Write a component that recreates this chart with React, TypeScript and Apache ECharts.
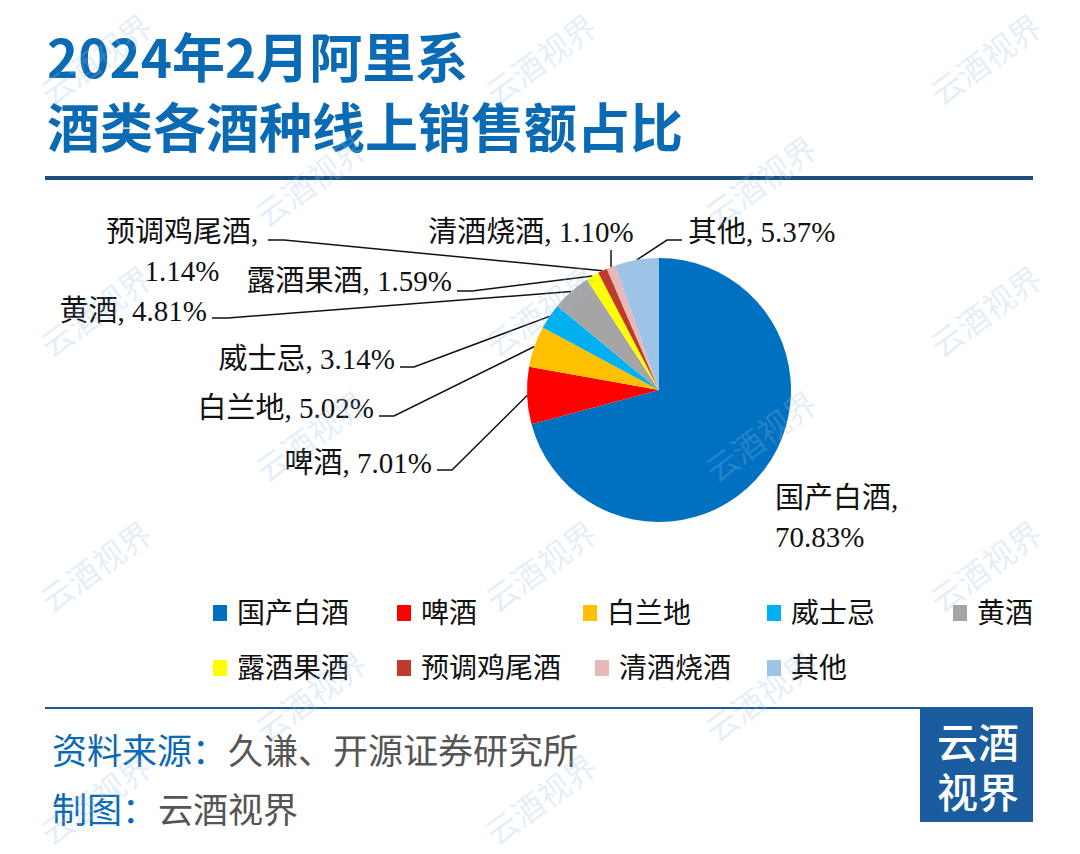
import React, { useEffect, useRef } from "react";
import * as echarts from "echarts";

const TITLE_LINES = ["2024年2月阿里系", "酒类各酒种线上销售额占比"];
const CATEGORIES = ["国产白酒", "啤酒", "白兰地", "威士忌", "黄酒", "露酒果酒", "预调鸡尾酒", "清酒烧酒", "其他"];
const SHARES = [70.83, 7.01, 5.02, 3.14, 4.81, 1.59, 1.14, 1.1, 5.37];
const COLORS = ["#0070C0", "#FF0000", "#FFC000", "#00B0F0", "#A5A5A5", "#FFFF00", "#C0392B", "#E6B9B8", "#9DC3E6"];
const SOURCE_LABEL = "资料来源：";
const SOURCE_TEXT = "久谦、开源证券研究所";
const MAKER_LABEL = "制图：";
const MAKER_TEXT = "云酒视界";
const BRAND = ["云酒", "视界"];
const WATERMARK = "云酒视界";

// label placement (layout only)
type LabelCfg = {
  x: number; y: number; align: string; wrap?: boolean;
  end?: [number, number]; elbow?: [number, number]; vertical?: number;
};
const LABEL_LAYOUT: LabelCfg[] = [
  { x: 775, y: 517, align: "left", wrap: true },
  { x: 432, y: 463, align: "right", end: [437, 470], elbow: [452, 470] },
  { x: 374, y: 408, align: "right", end: [379, 416], elbow: [394, 416] },
  { x: 395, y: 359, align: "right", end: [400, 367], elbow: [414, 367] },
  { x: 207, y: 311, align: "right", end: [212, 318], elbow: [228, 318] },
  { x: 452, y: 281, align: "right", end: [457, 291], elbow: [472, 291] },
  { x: 182, y: 251, align: "center", wrap: true, end: [268, 240], elbow: [284, 240] },
  { x: 531, y: 232, align: "center", vertical: 250 },
  { x: 688, y: 232, align: "left", end: [682, 240], elbow: [667, 240] },
];
// legend item placement (layout only): [left, top]
const LEGEND_POS: [number, number][] = [
  [208, 594], [392, 594], [578, 594], [762, 594], [948, 594],
  [208, 649], [392, 649], [590, 649], [762, 649],
];
// watermark placement (decoration only)
const WATERMARK_POS: [number, number][] = [
  [95, 58], [540, 58], [985, 58],
  [310, 180], [760, 180],
  [95, 310], [540, 310], [985, 310],
  [310, 435], [760, 435],
  [95, 565], [540, 565], [985, 565],
  [310, 695], [760, 695],
  [95, 798], [540, 798],
];

const BLUE = "#0a6ab4";
const GRAY = "#555555";
const SERIF = '"Liberation Serif", "DejaVu Serif", "Noto Sans CJK SC", serif';
const SANS = '"Noto Sans CJK SC", "Noto Sans", sans-serif';

function watermarks() {
  return WATERMARK_POS.map(([x, y]) => ({
    type: "text",
    x,
    y,
    rotation: (36 * Math.PI) / 180,
    z: 100,
    silent: true,
    style: {
      text: WATERMARK,
      fill: "rgba(150,190,230,0.26)",
      font: `32px ${SANS}`,
      align: "center",
      verticalAlign: "middle",
    },
  }));
}

export default function App() {
  const ref = useRef<HTMLDivElement>(null);
  useEffect(() => {
    if (!ref.current) return;
    const chart = echarts.init(ref.current, null, { renderer: "svg" });
    const data = CATEGORIES.map((name, i) => ({
      name,
      value: SHARES[i],
      itemStyle: { color: COLORS[i] },
      labelLine: { show: i !== 0 },
    }));
    const legends = CATEGORIES.map((name, i) => ({
      left: LEGEND_POS[i][0],
      top: LEGEND_POS[i][1],
      orient: "horizontal",
      icon: "rect",
      itemWidth: 14,
      itemHeight: 16,
      data: [name],
      textStyle: { fontSize: 28, color: "#111", fontFamily: SERIF, padding: [0, 0, 0, 5] },
    }));
    chart.setOption({
      animation: false,
      backgroundColor: "#ffffff",
      legend: legends,
      series: [
        {
          type: "pie",
          center: [659, 390],
          radius: 132,
          startAngle: 90,
          clockwise: true,
          avoidLabelOverlap: false,
          data,
          label: {
            show: true,
            position: "outside",
            fontSize: 29,
            lineHeight: 39,
            color: "#111",
            fontFamily: SERIF,
            formatter: (p: any) => {
              const cfg = LABEL_LAYOUT[p.dataIndex];
              const v = Number(p.value).toFixed(2) + "%";
              return cfg.wrap ? `${p.name},\n${v}` : `${p.name}, ${v}`;
            },
          },
          labelLine: {
            show: true,
            length: 10,
            length2: 10,
            lineStyle: { color: "#111", width: 1.5 },
          },
          labelLayout: (params: any) => {
            const cfg = LABEL_LAYOUT[params.dataIndex];
            const out: any = { x: cfg.x, y: cfg.y, align: cfg.align, verticalAlign: "middle" };
            const pts = params.labelLinePoints;
            if (pts && pts.length) {
              const p0: [number, number] = [pts[0][0], pts[0][1]];
              if (cfg.vertical !== undefined) {
                out.labelLinePoints = [p0, [p0[0], cfg.vertical], [p0[0], cfg.vertical]];
              } else if (cfg.end && cfg.elbow) {
                out.labelLinePoints = [p0, cfg.elbow, cfg.end];
              }
            }
            return out;
          },
        },
      ],
      graphic: [
        {
          type: "text",
          left: 47,
          top: 28,
          style: { text: TITLE_LINES[0], fill: BLUE, font: `bold 53px ${SANS}` },
        },
        {
          type: "text",
          left: 47,
          top: 98,
          style: { text: TITLE_LINES[1], fill: BLUE, font: `bold 53px ${SANS}` },
        },
        {
          type: "rect",
          shape: { x: 45, y: 176, width: 988, height: 4 },
          style: { fill: "#1b4f80" },
        },
        {
          type: "rect",
          shape: { x: 45, y: 707, width: 876, height: 2 },
          style: { fill: "#1f5a8f" },
        },
        {
          type: "rect",
          shape: { x: 920, y: 707, width: 113, height: 115 },
          style: { fill: "#1a5c9e" },
        },
        {
          type: "text",
          x: 978,
          y: 740,
          style: { text: BRAND[0], fill: "#ffffff", font: `500 41px ${SANS}`, align: "center", verticalAlign: "middle" },
        },
        {
          type: "text",
          x: 978,
          y: 790,
          style: { text: BRAND[1], fill: "#ffffff", font: `500 41px ${SANS}`, align: "center", verticalAlign: "middle" },
        },
        {
          type: "text",
          x: 52,
          y: 748,
          style: { text: SOURCE_LABEL, fill: BLUE, font: `35px ${SANS}`, verticalAlign: "middle" },
        },
        {
          type: "text",
          x: 228,
          y: 748,
          style: { text: SOURCE_TEXT, fill: GRAY, font: `35px ${SANS}`, verticalAlign: "middle" },
        },
        {
          type: "text",
          x: 52,
          y: 807,
          style: { text: MAKER_LABEL, fill: BLUE, font: `35px ${SANS}`, verticalAlign: "middle" },
        },
        {
          type: "text",
          x: 158,
          y: 807,
          style: { text: MAKER_TEXT, fill: GRAY, font: `35px ${SANS}`, verticalAlign: "middle" },
        },
        ...watermarks(),
      ],
    });
    return () => chart.dispose();
  }, []);
  return (
    <div
      ref={ref}
      style={{ position: "fixed", left: 0, top: 0, width: 1080, height: 854, background: "#fff" }}
    />
  );
}
